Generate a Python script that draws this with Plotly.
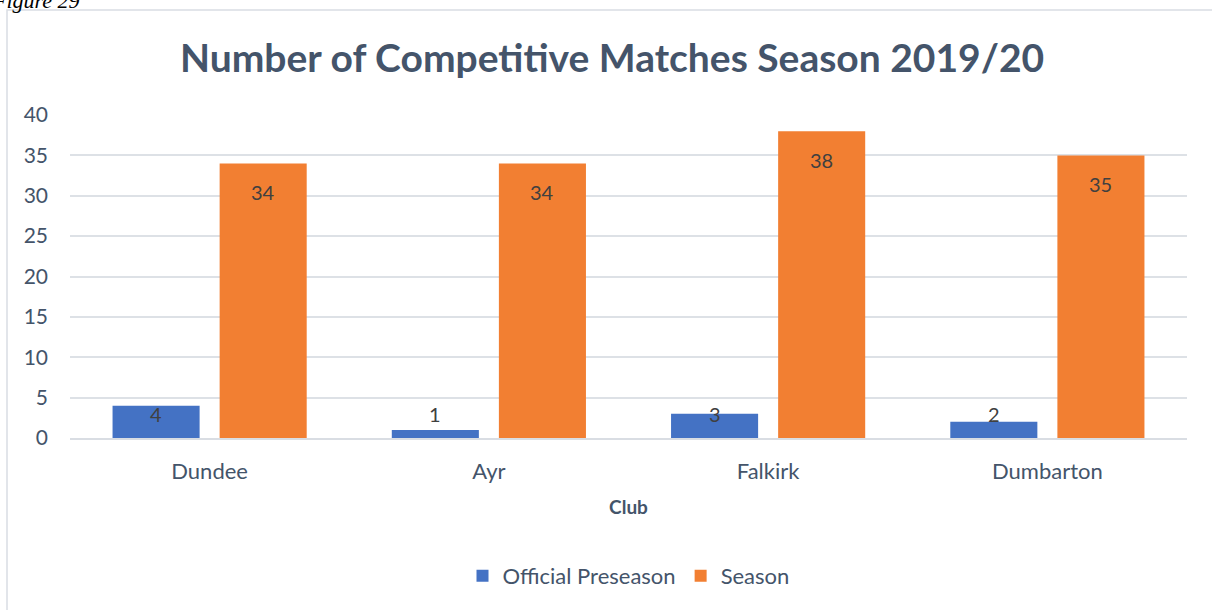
import plotly.graph_objects as go

clubs = ["Dundee", "Ayr", "Falkirk", "Dumbarton"]
preseason = [4, 1, 3, 2]
season = [34, 34, 38, 35]
y_ticks = [0, 5, 10, 15, 20, 25, 30, 35, 40]

W, H = 1212, 610
ML, MR, MT, MB = 70, 25, 115, 172
PW, PH = W - ML - MR, H - MT - MB

FONT = "Lato"
TXT = "#44546A"

fig = go.Figure()
fig.add_trace(go.Bar(name="Official Preseason", x=clubs, y=preseason,
                     marker=dict(color="#4472C4", line=dict(width=0))))
fig.add_trace(go.Bar(name="Season", x=clubs, y=season,
                     marker=dict(color="#F27F32", line=dict(width=0))))

ann = []
for c, v in zip(clubs, preseason):
    ann.append(dict(x=c, y=0, xref="x", yref="y", text=str(v), showarrow=False,
                    xshift=-53.5, yshift=24, font=dict(family=FONT, size=20, color="#404040")))
for c, v in zip(clubs, season):
    ann.append(dict(x=c, y=v, xref="x", yref="y", text=str(v), showarrow=False,
                    xshift=53.5, yshift=-29, font=dict(family=FONT, size=20, color="#404040")))
ann.append(dict(x=(82 - ML) / PW, y=((H - 1) - MB) / PH, xref="paper", yref="paper",
                text="<i>Figure 29</i>", showarrow=False, xanchor="right", yanchor="middle",
                font=dict(family="Liberation Serif", size=22, color="#000000")))

fig.update_layout(
    width=W, height=H,
    margin=dict(l=ML, r=MR, t=MT, b=MB, autoexpand=False),
    paper_bgcolor="white", plot_bgcolor="white",
    barmode="group", bargap=0.233, bargroupgap=0.187,
    title=dict(text="<b>Number of Competitive Matches Season 2019/20</b>",
               x=0.505, xanchor="center", y=1 - 58 / H, yanchor="middle",
               font=dict(family=FONT, size=39, color=TXT)),
    font=dict(family=FONT, color=TXT),
    xaxis=dict(showgrid=False, showline=True, linecolor="#D9DDE3", linewidth=1.5,
               ticks="", ticklabelstandoff=13, tickfont=dict(size=22, color=TXT),
               title=dict(text="<b>Club</b>", font=dict(size=19, color=TXT), standoff=18)),
    yaxis=dict(range=[0, 40], tickvals=y_ticks, showgrid=True, gridcolor="#DDE1E6",
               gridwidth=1.5, zeroline=False, showline=False, ticks="",
               ticklabelstandoff=21, tickfont=dict(size=21, color=TXT)),
    legend=dict(orientation="h", x=0.5, xanchor="center", y=-(576 - (H - MB)) / PH,
                yanchor="middle", font=dict(family=FONT, size=22, color=TXT),
                itemwidth=30, traceorder="normal"),
    annotations=ann,
    shapes=[dict(type="rect", xref="paper", yref="paper",
                 x0=(7 - ML) / PW, x1=(W + 10 - ML) / PW,
                 y0=((H - MB) - (H + 10)) / PH, y1=((H - MB) - 10) / PH,
                 line=dict(color="#D9DDE3", width=1.5), fillcolor="rgba(0,0,0,0)",
                 layer="below")],
)
fig.write_html("out.html")
